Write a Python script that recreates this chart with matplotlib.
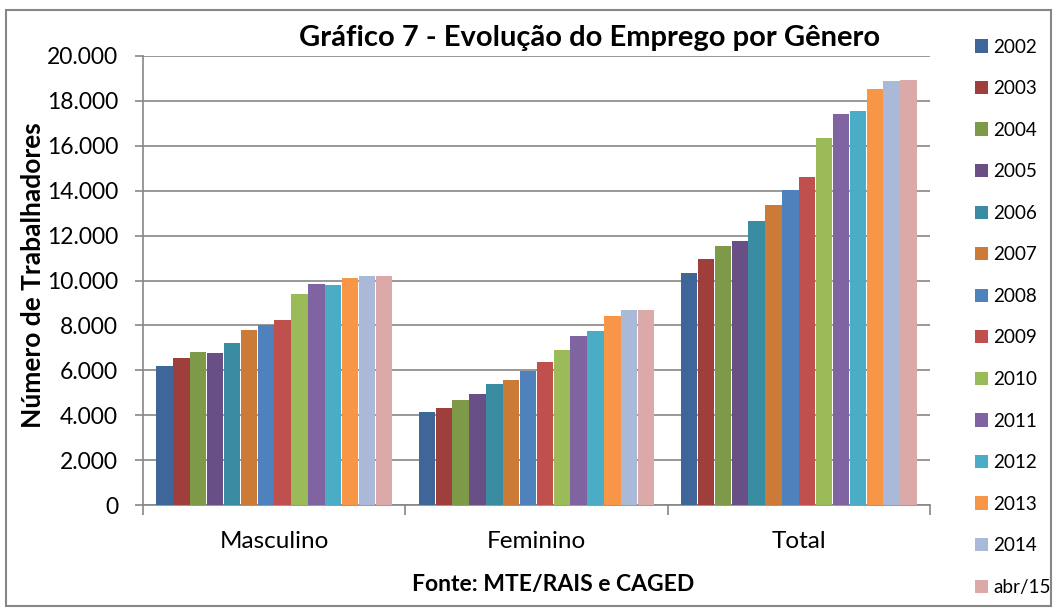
import numpy as np
import matplotlib.pyplot as plt
from matplotlib.ticker import FuncFormatter, FixedLocator
from matplotlib.patches import Rectangle

# === data ===
categories = ["Masculino", "Feminino", "Total"]
series = ["2002", "2003", "2004", "2005", "2006", "2007", "2008",
          "2009", "2010", "2011", "2012", "2013", "2014", "abr/15"]
masculino = [6175, 6546, 6830, 6770, 7203, 7785, 8009, 8233, 9378, 9843, 9781, 10094, 10184, 10215]
feminino = [4134, 4340, 4684, 4940, 5400, 5548, 5982, 6353, 6922, 7548, 7772, 8412, 8667, 8667]
total = [10344, 10940, 11553, 11776, 12640, 13356, 14013, 14626, 16340, 17400, 17562, 18532, 18877, 18922]

colors = ["#3E6699", "#9E3F3C", "#7E9A48", "#684F86", "#3A8CA2", "#CC7A37",
          "#4F81BD", "#C0504D", "#9BBB59", "#8064A2", "#4BACC6", "#F79646",
          "#AAB9D8", "#DBA9A8"]

plt.rcParams['font.family'] = ['Lato', 'DejaVu Sans']

fig = plt.figure(figsize=(10.57, 6.08), dpi=100)
ax = fig.add_axes([143 / 1057, 1 - 505 / 608, 787 / 1057, 449 / 608])

values = np.array([masculino, feminino, total])
x = np.arange(len(categories))
n = len(series)
w = 0.9 / n
for i, name in enumerate(series):
    ax.bar(x - 0.45 + w * (i + 0.5), values[:, i], width=w * 0.97,
           color=colors[i], label=name, zorder=3)

ax.set_xlim(-0.5, 2.5)
ax.set_ylim(0, 20000)
ax.set_yticks(np.arange(0, 20001, 2000))
ax.yaxis.set_major_formatter(FuncFormatter(lambda v, p: f"{int(v):,}".replace(",", ".")))
ax.grid(axis='y', color='#868686', linewidth=1.2, zorder=0)
ax.set_xticks(x)
ax.set_xticklabels(categories)
ax.xaxis.set_minor_locator(FixedLocator([-0.5, 0.5, 1.5, 2.5]))
ax.tick_params(axis='x', which='major', length=0, pad=19, labelsize=17.5)
ax.tick_params(axis='x', which='minor', length=7, color='#868686', width=1.2)
ax.tick_params(axis='y', length=6, color='#868686', width=1.2, labelsize=16.5, pad=12)

for s in ['top', 'right']:
    ax.spines[s].set_visible(False)
for s in ['left', 'bottom']:
    ax.spines[s].set_color('#868686')
    ax.spines[s].set_linewidth(1.2)

fig.text(33 / 1057, 1 - 275 / 608, "Número de Trabalhadores", rotation=90,
         ha='center', va='center', fontsize=19, fontweight='bold')
fig.text(590 / 1057, 1 - 38 / 608, "Gráfico 7 - Evolução do Emprego por Gênero",
         ha='center', va='center', fontsize=21, fontweight='bold')
fig.text(553 / 1057, 1 - 584 / 608, "Fonte: MTE/RAIS e CAGED",
         ha='center', va='center', fontsize=16.5, fontweight='bold')

fig.legend(loc='upper left', bbox_to_anchor=(0.915, 0.949), frameon=False,
           fontsize=13.6, handlelength=0.7, handleheight=0.7, handletextpad=0.3,
           labelspacing=1.30, borderaxespad=0)

fig.patches.append(Rectangle((6 / 1057, 2 / 608), 1045 / 1057, 596 / 608,
                             transform=fig.transFigure, fill=False,
                             edgecolor='#868686', linewidth=1.5))

fig.savefig("out.png", dpi=100)
